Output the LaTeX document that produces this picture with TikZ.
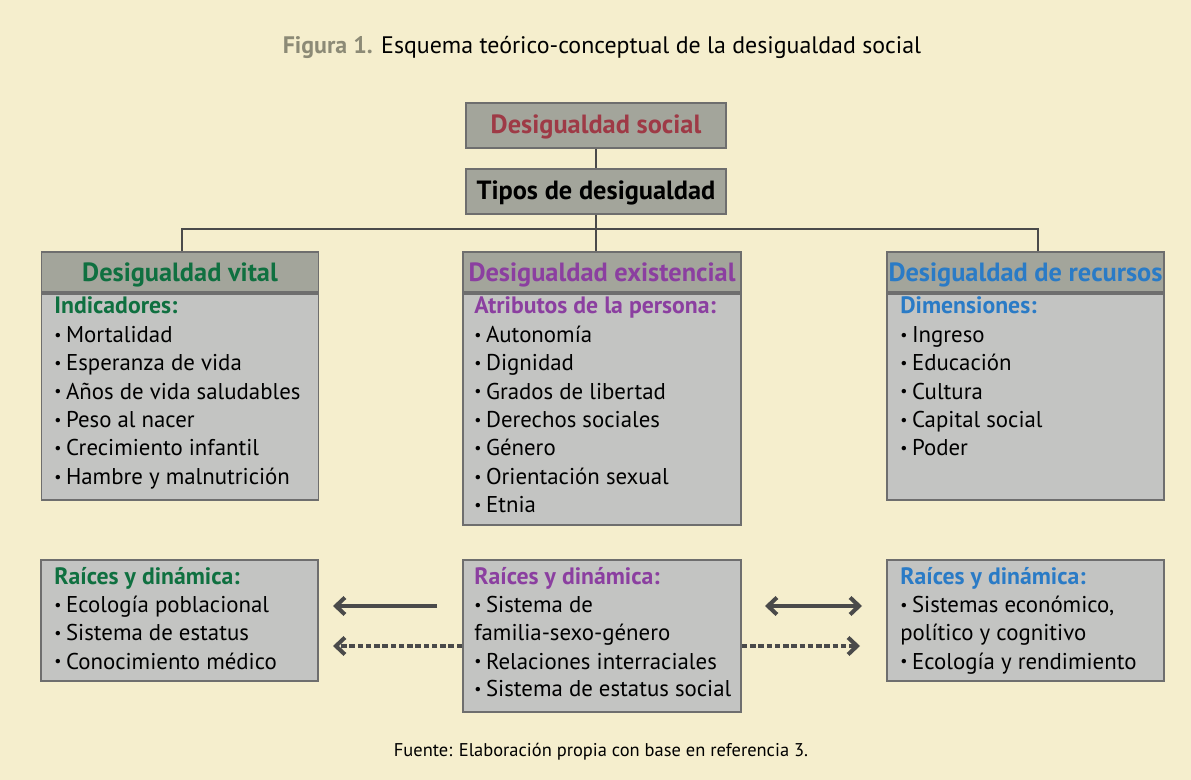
\documentclass[tikz,border=0pt]{standalone}
\usepackage{fontspec}
\setmainfont{PT Sans}
\usetikzlibrary{positioning,arrows.meta}
\definecolor{fondo}{HTML}{F5EECD}
\definecolor{grisosc}{HTML}{A3A59B}
\definecolor{grisclaro}{HTML}{C3C4C2}
\definecolor{borde}{HTML}{6E6E6E}
\definecolor{linea}{HTML}{4A4A4A}
\definecolor{rojo}{HTML}{9E3A46}
\definecolor{verde}{HTML}{0F7040}
\definecolor{morado}{HTML}{8B3FA0}
\definecolor{azul}{HTML}{2A7BC6}
\definecolor{oliva}{HTML}{8C8A76}
\newcommand{\vineta}{{\fontsize{9}{9}\selectfont\raisebox{0.15em}{\textbullet}}\kern0.2em}
\tikzset{tope/.style={rectangle,draw=borde,fill=grisosc,line width=1pt,minimum width=5.2cm,minimum height=0.9cm,inner sep=0pt,text depth=1pt,font=\fontsize{15}{18}\selectfont\bfseries},
cabeza/.style={rectangle,draw=borde,fill=grisosc,line width=1pt,minimum width=5.54cm,minimum height=0.8cm,inner sep=0pt,text depth=0pt,font=\fontsize{15}{18}\selectfont\bfseries},
cuerpo/.style={rectangle,draw=borde,fill=grisclaro,line width=1pt,minimum width=5.54cm,inner sep=0pt},
item/.style={anchor=base west,inner sep=0pt,font=\fontsize{13}{15}\selectfont},
subtitulo/.style={item,font=\fontsize{13.5}{15}\selectfont\bfseries},
rama/.style={draw=linea,line width=1.7pt},
flecha/.style={draw=linea,line width=2.3pt,-{Straight Barb[length=1.8mm,width=3.4mm]}},
punteada/.style={dash pattern=on 1.1mm off 0.55mm}}

\begin{document}
\begin{tikzpicture}[x=0.02cm,y=-0.02cm]

\fill[fondo] (0,0) rectangle (1191,780);

\node (titulo) at (602,47) {\fontsize{13.6}{16}\selectfont\textcolor{oliva}{\bfseries Figura 1.} Esquema teórico-conceptual de la desigualdad social};

\node[tope,text=rojo] (social) at (596,125.5) {Desigualdad social};
\node[tope] (tipos) at (596,191.5) {Tipos de desigualdad};
\coordinate (rama) at (596,229);

% tres tipos
\node[cabeza,text=verde] (vhead) at (180,272) {Desigualdad vital};
\node[cabeza,text=morado,minimum width=5.56cm] (ehead) at (602,272) {Desigualdad existencial};
\node[cabeza,text=azul] (rhead) at (1025.5,272) {Desigualdad de recursos};
\node[cuerpo,minimum height=4.12cm,below=0pt of vhead] (vbody) {};
\node[cuerpo,minimum width=5.56cm,minimum height=4.62cm,below=0pt of ehead] (ebody) {};
\node[cuerpo,minimum height=4.12cm,below=0pt of rhead] (rbody) {};

\draw[rama] (social) -- (tipos);
\draw[rama] (tipos) -- (tipos |- ehead.north);
\draw[rama] ([xshift=0.04cm]vhead.north) |- (rama) -| ([xshift=0.25cm]rhead.north);

\node[subtitulo,text=verde] (vsub) at (54,314) {Indicadores:};
\foreach \t [count=\i] in {Mortalidad,Esperanza de vida,Años de vida saludables,Peso al nacer,Crecimiento infantil,Hambre y malnutrición}
  \node[item] (v\i) at (54,{314+28.4*\i}) {\vineta\t};

\node[subtitulo,text=morado] (esub) at (474,314) {Atributos de la persona:};
\foreach \t [count=\i] in {Autonomía,Dignidad,Grados de libertad,Derechos sociales,Género,Orientación sexual,Etnia}
  \node[item] (e\i) at (474,{314+28.4*\i}) {\vineta\t};

\node[subtitulo,text=azul] (rsub) at (900,314) {Dimensiones:};
\foreach \t [count=\i] in {Ingreso,Educación,Cultura,Capital social,Poder}
  \node[item] (r\i) at (900,{314+28.4*\i}) {\vineta\t};

% raices y dinamica
\node[cuerpo,minimum height=2.42cm] (vraiz) at (179.5,620.5) {};
\node[cuerpo,minimum width=5.56cm,minimum height=3.04cm] (eraiz) at (602,636) {};
\node[cuerpo,minimum height=2.42cm] (rraiz) at (1025.5,620.5) {};

\node[subtitulo,text=verde] (vrsub) at (54,585) {Raíces y dinámica:};
\foreach \t [count=\i] in {Ecología poblacional,Sistema de estatus,Conocimiento médico}
  \node[item] (vr\i) at (54,{585+28*\i}) {\vineta\t};

\node[subtitulo,text=morado] (ersub) at (474,585) {Raíces y dinámica:};
\foreach \t [count=\i] in {\vineta Sistema de,familia-sexo-género,\vineta Relaciones interraciales,\vineta Sistema de estatus social}
  \node[item] (er\i) at (474,{585+28*\i}) {\t};

\node[subtitulo,text=azul] (rrsub) at (900,585) {Raíces y dinámica:};
\foreach \t [count=\i] in {\vineta Sistemas económico{,},político y cognitivo,\vineta Ecología y rendimiento}
  \node[item] (rr\i) at (900,{585+28*\i}) {\t};

\coordinate (fi1) at (437,606);
\coordinate (fi2) at (333,606);
\coordinate (pi2) at (333,646);
\coordinate (fd1) at (765,606);
\coordinate (fd2) at (862,606);
\coordinate (pd2) at (860,646);
\draw[flecha] (fi1) -- (fi2);
\draw[flecha,punteada] (eraiz.west |- pi2) -- (pi2);
\draw[flecha,{Straight Barb[length=1.8mm,width=3.4mm]}-{Straight Barb[length=1.8mm,width=3.4mm]}] (fd1) -- (fd2);
\draw[flecha,punteada] (eraiz.east |- pd2) -- (pd2);

\node (fuente) at (601,752) {\fontsize{10.5}{13}\selectfont Fuente: Elaboración propia con base en referencia 3.};

\end{tikzpicture}
\end{document}
